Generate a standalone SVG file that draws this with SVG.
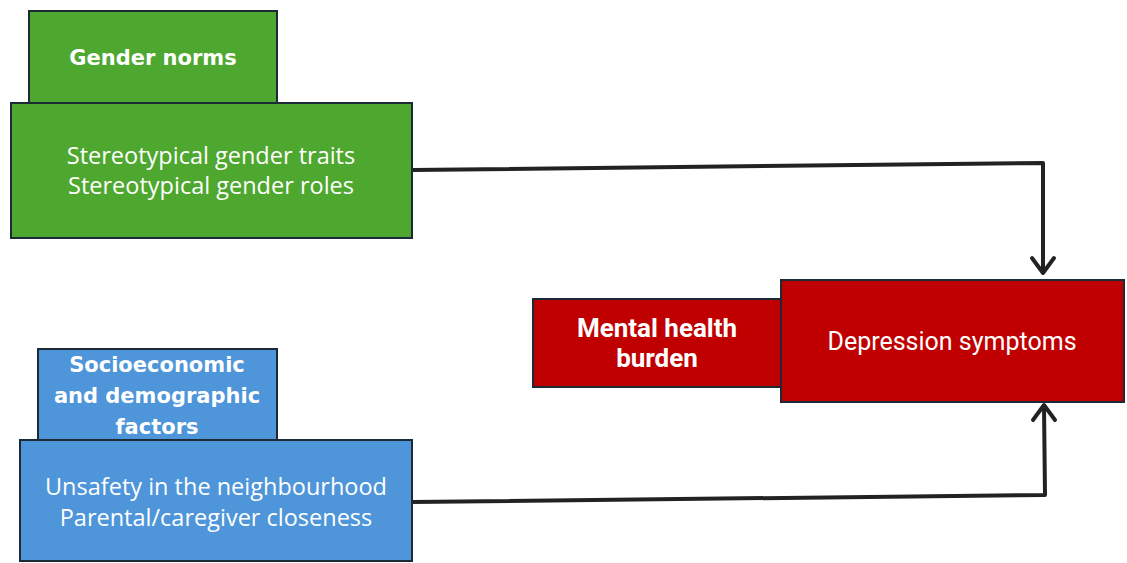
<svg xmlns="http://www.w3.org/2000/svg" width="1127" height="563" viewBox="0 0 1127 563">
<defs>
<style>
.box{stroke:#1c2a36;stroke-width:2}
.g{fill:#4ea72e}
.b{fill:#4e95d9}
.r{fill:#c00000}
.hd{font-family:"DejaVu Sans",sans-serif;font-weight:bold;font-size:21px;fill:#fff;text-anchor:middle}
.tx{font-family:"Open Sans",sans-serif;font-size:23.5px;fill:#fff;text-anchor:middle}
.rh{font-family:Roboto,sans-serif;font-weight:bold;font-size:26px;fill:#fff;text-anchor:middle}
.rt{font-family:Roboto,sans-serif;font-size:25px;fill:#fff;text-anchor:middle}
.conn{fill:none;stroke:#222;stroke-width:4;stroke-linejoin:round}
.head{fill:none;stroke:#222;stroke-width:4;stroke-linecap:round;stroke-linejoin:round}
</style>
</defs>
<rect width="1127" height="563" fill="#fff"/>
<g id="connectors">
<path class="conn" d="M412,170 L1043,163 L1043,272"/>
<path class="head" d="M1032,258 L1043,273 L1054,258"/>
<path class="conn" d="M412,502 L1045,495 L1044,406"/>
<path class="head" d="M1033,420 L1044,405 L1055,420"/>
</g>
<g id="gender-norms">
<rect class="box g" x="29" y="11" width="248" height="92"/>
<text class="hd" x="153" y="65">Gender norms</text>
</g>
<g id="gender-items">
<rect class="box g" x="11" y="103" width="401" height="135"/>
<text class="tx" x="211" y="164">Stereotypical gender traits</text>
<text class="tx" x="211" y="194">Stereotypical gender roles</text>
</g>
<g id="socio-factors">
<rect class="box b" x="38" y="349" width="239" height="91"/>
<text class="hd" x="157" y="372">Socioeconomic</text>
<text class="hd" x="157" y="403">and demographic</text>
<text class="hd" x="157" y="434">factors</text>
</g>
<g id="socio-items">
<rect class="box b" x="20" y="440" width="392" height="121"/>
<text class="tx" x="216" y="495">Unsafety in the neighbourhood</text>
<text class="tx" x="216" y="526">Parental/caregiver closeness</text>
</g>
<g id="mental-health">
<rect class="box r" x="533" y="299" width="248" height="88"/>
<text class="rh" x="657" y="337">Mental health</text>
<text class="rh" x="657" y="367">burden</text>
</g>
<g id="depression">
<rect class="box r" x="781" y="280" width="343" height="122"/>
<text class="rt" x="952" y="350">Depression symptoms</text>
</g>
</svg>
